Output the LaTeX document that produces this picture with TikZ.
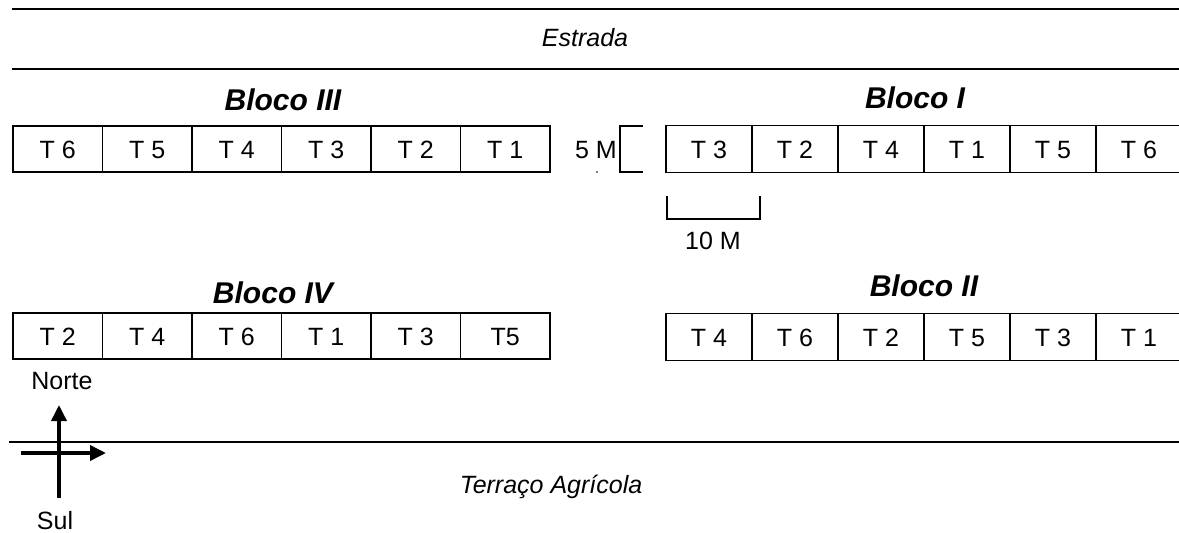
\documentclass[tikz,border=0pt]{standalone}
\usepackage{fontspec}
\setmainfont{Liberation Sans}
\usetikzlibrary{arrows.meta}
\tikzset{
  cellA/.style={draw, line width=1.8pt, minimum width=89.5pt, minimum height=46pt, inner sep=0pt, text height=18pt, text depth=0pt, font=\fontsize{25}{30}\selectfont},
  cellB/.style={draw, line width=1.8pt, minimum width=86pt, minimum height=47pt, inner sep=0pt, text height=18pt, text depth=0pt, font=\fontsize{25}{30}\selectfont},
  title/.style={font=\fontsize{30}{36}\selectfont\bfseries\itshape, inner sep=0pt},
  lbl/.style={font=\fontsize{25}{30}\selectfont, inner sep=0pt},
  road/.style={line width=2.6pt},
  compass/.style={line width=3.6pt, -{Triangle[length=16pt,width=15pt]}}
}
\begin{document}
\begin{tikzpicture}[x=1pt,y=-1pt]
\useasboundingbox (0,0) rectangle (1179,533);
% road lines
\coordinate (r1a) at (12,9); \coordinate (r1b) at (1179,9);
\coordinate (r2a) at (12,69); \coordinate (r2b) at (1179,69);
\coordinate (r3a) at (9,442); \coordinate (r3b) at (1179,442);
\draw[road] (r1a) -- (r1b);
\draw[road] (r2a) -- (r2b);
\draw[line width=2pt] (r3a) -- (r3b);
\node[lbl, font=\fontsize{25}{30}\selectfont\itshape] (estrada) at (585,38) {Estrada};
\node[lbl, font=\fontsize{25}{30}\selectfont\itshape] (terraco) at (551,487) {Terraço Agrícola};
% titles
\node[title] (t3) at (283,100) {Bloco III};
\node[title] (t1) at (915,98) {Bloco I};
\node[title] (t4) at (273,293) {Bloco IV};
\node[title] (t2) at (924,286) {Bloco II};
% Bloco III
\node[cellA] (bIII1) at (57.75,149) {T 6};
\node[cellA] (bIII2) at (147.25,149) {T 5};
\node[cellA] (bIII3) at (236.75,149) {T 4};
\node[cellA] (bIII4) at (326.25,149) {T 3};
\node[cellA] (bIII5) at (415.75,149) {T 2};
\node[cellA] (bIII6) at (505.25,149) {T 1};
% Bloco IV
\node[cellA] (bIV1) at (57.75,336) {T 2};
\node[cellA] (bIV2) at (147.25,336) {T 4};
\node[cellA] (bIV3) at (236.75,336) {T 6};
\node[cellA] (bIV4) at (326.25,336) {T 1};
\node[cellA] (bIV5) at (415.75,336) {T 3};
\node[cellA] (bIV6) at (505.25,336) {T5};
% Bloco I
\node[cellB] (bI1) at (709,149) {T 3};
\node[cellB] (bI2) at (795,149) {T 2};
\node[cellB] (bI3) at (881,149) {T 4};
\node[cellB] (bI4) at (967,149) {T 1};
\node[cellB] (bI5) at (1053,149) {T 5};
\node[cellB] (bI6) at (1139,149) {T 6};
% Bloco II
\node[cellB] (bII1) at (709,337) {T 4};
\node[cellB] (bII2) at (795,337) {T 6};
\node[cellB] (bII3) at (881,337) {T 2};
\node[cellB] (bII4) at (967,337) {T 5};
\node[cellB] (bII5) at (1053,337) {T 3};
\node[cellB] (bII6) at (1139,337) {T 1};
% 5 M bracket
\node[lbl, anchor=east] (fiveM) at (617,150) {5 M};
\coordinate (k1) at (643,126); \coordinate (k2) at (620,126);
\coordinate (k3) at (620,172); \coordinate (k4) at (643,172);
\draw[line width=1.8pt] (k1) -- (k2) -- (k3) -- (k4);
\fill (597,172) circle (0.9pt);
% 10 M bracket
\coordinate (m1) at (667,196); \coordinate (m2) at (667,219);
\coordinate (m3) at (760,219); \coordinate (m4) at (760,196);
\draw[line width=1.8pt] (m1) -- (m2) -- (m3) -- (m4);
\node[lbl] (tenM) at (713,241) {10 M};
% compass
\coordinate (ns) at (59,498); \coordinate (nn) at (59,405);
\coordinate (ew) at (21,453); \coordinate (ee) at (106,453);
\draw[compass] (ns) -- (nn);
\draw[compass] (ew) -- (ee);
\node[lbl] (norte) at (62,381) {Norte};
\node[lbl] (sul) at (55,521) {Sul};
\end{tikzpicture}
\end{document}
